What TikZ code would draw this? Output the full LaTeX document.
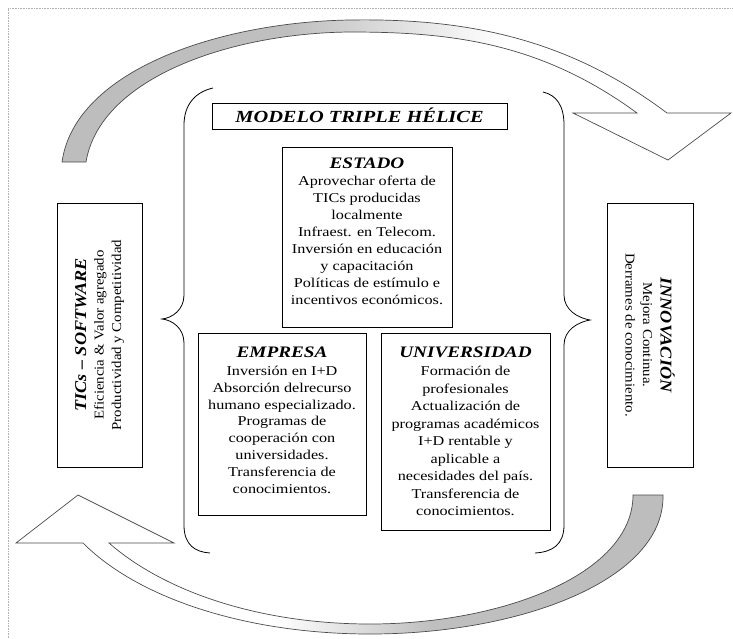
\documentclass[tikz,border=0pt]{standalone}
\usepackage{fontspec}
\setmainfont{Liberation Serif}
\newfontfamily\wide{Liberation Serif}[FakeStretch=1.2]
\newfontfamily\nar{Liberation Serif}[FakeStretch=1.1]
\pgfdeclarehorizontalshading{fadeL}{100bp}{color(0bp)=(gray!55); color(42bp)=(gray!50); color(58bp)=(white); color(100bp)=(white)}
\pgfdeclarehorizontalshading{fadeR}{100bp}{color(0bp)=(white); color(45bp)=(white); color(57bp)=(gray!50); color(100bp)=(gray!55)}
\begin{document}
\begin{tikzpicture}[x=1pt,y=-1pt,
  box/.style={draw=black, line width=0.8pt, inner sep=0pt},
  rotbox/.style={draw=black, line width=0.8pt, inner sep=0pt, align=center,
     font=\nar\fontsize{13.5}{17.5}\selectfont},
  bodytxt/.style={font=\wide\fontsize{13.5}{17}\selectfont, align=center, inner sep=0pt},
  ttl/.style={font=\wide\fontsize{16}{18}\selectfont\bfseries\itshape, inner sep=0pt},
  mttl/.style={font=\wide\fontsize{17}{20}\selectfont\bfseries\itshape, inner sep=0pt},
  arrowband/.style={draw=black!70, line width=0.7pt},
  bracestyle/.style={draw=black, line width=0.8pt},
  framestyle/.style={draw=gray!60, densely dotted, line width=0.6pt}]
\useasboundingbox (0,0) rectangle (733,638);
\fill[white] (0,0) rectangle (733,638);
% outer frame
\draw[framestyle] (8,638) -- (8,8) -- (733,8);

% top curved arrow
\path[arrowband, shading=fadeL]
  (62,162) .. controls (75,70) and (220,22) .. (350,20)
  .. controls (470,18) and (570,40) .. (667,113)
  -- (731,113) -- (668,160) -- (573,113) -- (637,113)
  .. controls (540,42) and (450,32) .. (350,32)
  .. controls (230,33) and (100,78) .. (86,162) -- cycle;

% bottom curved arrow
\path[arrowband, shading=fadeR]
  (663,495) .. controls (665,580) and (520,634) .. (370,634)
  .. controls (250,634) and (140,600) .. (83,543)
  -- (16,543) -- (78,495) -- (174,543) -- (109,543)
  .. controls (165,592) and (260,624) .. (370,624)
  .. controls (500,624) and (633,575) .. (633,495) -- cycle;

% braces
\draw[bracestyle] (213,88) .. controls (195,92) and (184,105) .. (184,125)
  -- (184,295) .. controls (184,310) and (172,318) .. (162,319)
  .. controls (172,320) and (184,328) .. (184,343)
  -- (184,525) .. controls (184,545) and (195,552) .. (210,553);
\draw[bracestyle] (543,92) .. controls (556,95) and (564,105) .. (564,125)
  -- (564,295) .. controls (564,310) and (578,318) .. (590,320)
  .. controls (578,322) and (564,330) .. (564,345)
  -- (564,525) .. controls (564,545) and (552,552) .. (535,553);

% title box
\node[box, minimum width=295pt, minimum height=26pt] (modelo) at (359.5,116) {};
\node[mttl, anchor=base] (modelot) at (359.5,122) {MODELO TRIPLE HÉLICE};

% ESTADO
\node[box, minimum width=170pt, minimum height=180pt] (estado) at (367,237) {};
\node[ttl, anchor=base] (estadot) at (367,168.5) {ESTADO};
\node[bodytxt, anchor=north] (estadob) at (367,176) {Aprovechar oferta de\\TICs producidas\\localmente\\Infraest. en Telecom.\\Inversión en educación\\y capacitación\\Políticas de estímulo e\\incentivos económicos.};

% EMPRESA
\node[box, minimum width=168pt, minimum height=182pt] (empresa) at (282,424) {};
\node[ttl, anchor=base] (empresat) at (282,357.5) {EMPRESA};
\node[bodytxt, anchor=north, font=\wide\fontsize{13.5}{16.8}\selectfont] (empresab) at (282,366) {Inversión en I+D\\Absorción delrecurso\\humano especializado.\\Programas de\\cooperación con\\universidades.\\Transferencia de\\conocimientos.};

% UNIVERSIDAD
\node[box, minimum width=169pt, minimum height=197pt] (univ) at (465.5,431.5) {};
\node[ttl, anchor=base] (univt) at (465.5,357.5) {UNIVERSIDAD};
\node[bodytxt, anchor=north, font=\wide\fontsize{13.5}{17.5}\selectfont] (univb) at (465.5,366) {Formación de\\profesionales\\Actualización de\\programas académicos\\I+D rentable y\\aplicable a\\necesidades del país.\\Transferencia de\\conocimientos.};

% side boxes
\node[rotbox, rotate=90, minimum width=264pt, minimum height=85pt] (tics) at (99.5,335)
  {{\fontsize{16.5}{17.5}\selectfont\bfseries\itshape TICs – SOFTWARE}\\Eficiencia \& Valor agregado\\Productividad y Competitividad};
\node[rotbox, rotate=-90, minimum width=264pt, minimum height=86pt] (innov) at (650,335)
  {{\fontsize{16.5}{17.5}\selectfont\bfseries\itshape INNOVACIÓN}\\Mejora Continua.\\Derrames de conocimiento.};
\end{tikzpicture}
\end{document}
